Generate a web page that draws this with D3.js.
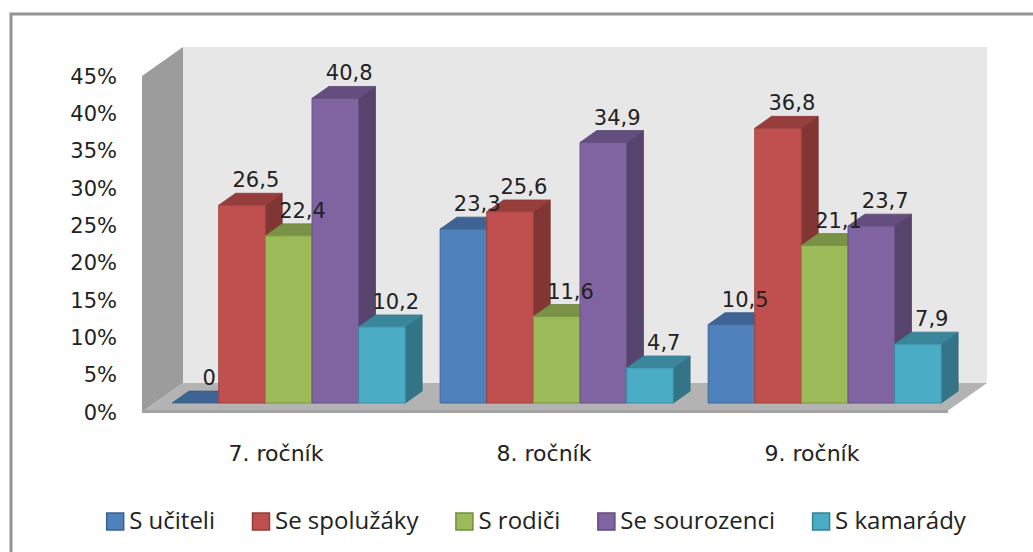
<!DOCTYPE html>
<html>
<head>
<meta charset="utf-8">
<script src="https://cdn.jsdelivr.net/npm/d3@7"></script>
<style>
  body { margin: 0; background: #fff; }
  .tick-label { font-family: "DejaVu Sans", Verdana, sans-serif; font-size: 21px; fill: #222; }
  .cat-label { font-family: "DejaVu Sans", Verdana, sans-serif; font-size: 22px; fill: #222; }
  .val-label { font-family: "DejaVu Sans", Verdana, sans-serif; font-size: 21px; fill: #222; }
  .legend-label { font-family: "Open Sans", "Noto Sans", sans-serif; font-size: 24px; fill: #222; }
</style>
</head>
<body>
<div id="chart"></div>
<script>

  // data (percent)
  var categories = ["7. ročník", "8. ročník", "9. ročník"];
  var seriesNames = ["S učiteli", "Se spolužáky", "S rodiči", "Se sourozenci", "S kamarády"];
  var sUciteli = [0, 23.3, 10.5];
  var seSpoluzaky = [26.5, 25.6, 36.8];
  var sRodici = [22.4, 11.6, 21.1];
  var seSourozenci = [40.8, 34.9, 23.7];
  var sKamarady = [10.2, 4.7, 7.9];
  var yTicks = [0, 5, 10, 15, 20, 25, 30, 35, 40, 45];
  var colors = ["#4F81BD", "#C0504D", "#9BBB59", "#8064A2", "#4BACC6"];

  var seriesValues = [sUciteli, seSpoluzaky, sRodici, seSourozenci, sKamarady];

  var width = 1033, height = 552;

  // front plane scales, depth goes back by (depthX, depthY)
  var yScale = d3.scaleLinear().domain([0, 45]).range([412, 76]);
  var xScale = d3.scaleBand()
    .domain(categories)
    .range([142, 946])
    .paddingInner(0.13)
    .paddingOuter(0.065);
  var xSeries = d3.scaleBand()
    .domain(seriesNames)
    .range([0, xScale.bandwidth()]);

  var depthX = 41, depthY = -29;
  var barZ0 = 0.31, barZ1 = 0.72;

  function proj(x, v, z) {
    return [x + z * depthX, yScale(v) + z * depthY];
  }
  function poly(pts) {
    return pts.map(function (p) { return p.join(","); }).join(" ");
  }

  var svg = d3.select("#chart").append("svg")
    .attr("width", width)
    .attr("height", height);

  // outer chart frame (runs off the right and bottom edges)
  svg.append("rect")
    .attr("x", 11).attr("y", 14)
    .attr("width", 1100).attr("height", 600)
    .attr("fill", "none")
    .attr("stroke", "#939393")
    .attr("stroke-width", 3);

  var x0 = xScale.range()[0], x1 = xScale.range()[1];
  var vMax = yScale.domain()[1];

  // back wall
  svg.append("polygon")
    .attr("points", poly([proj(x0, vMax, 1), proj(x1, vMax, 1), proj(x1, 0, 1), proj(x0, 0, 1)]))
    .attr("fill", "#e7e7e7");

  // side wall
  svg.append("polygon")
    .attr("points", poly([proj(x0, vMax, 0), proj(x0, vMax, 1), proj(x0, 0, 1), proj(x0, 0, 0)]))
    .attr("fill", "#9c9c9c");

  // floor
  svg.append("polygon")
    .attr("points", poly([proj(x0, 0, 0), proj(x0, 0, 1), proj(x1, 0, 1), proj(x1, 0, 0)]))
    .attr("fill", "#b3b3b3");
  svg.append("rect")
    .attr("x", x0).attr("y", yScale(0) - 2)
    .attr("width", x1 - x0 + 2).attr("height", 3)
    .attr("fill", "#a3a3a3");

  // y tick labels
  svg.selectAll(".tick-label")
    .data(yTicks)
    .enter().append("text")
    .attr("class", "tick-label")
    .attr("x", 117)
    .attr("y", function (d) { return yScale(d); })
    .attr("dy", "0.36em")
    .attr("text-anchor", "end")
    .text(function (d) { return d + "%"; });

  // category labels
  svg.selectAll(".cat-label")
    .data(categories)
    .enter().append("text")
    .attr("class", "cat-label")
    .attr("x", function (d) { return xScale(d) + xScale.bandwidth() / 2; })
    .attr("y", 453)
    .attr("dy", "0.36em")
    .attr("text-anchor", "middle")
    .text(function (d) { return d; });

  // bars, drawn left to right so later bars cover earlier side faces
  var bars = [];
  categories.forEach(function (c, ci) {
    seriesNames.forEach(function (s, si) {
      bars.push({ cat: c, series: s, color: colors[si], value: seriesValues[si][ci] });
    });
  });

  var barG = svg.append("g");
  bars.forEach(function (b) {
    var bx0 = xScale(b.cat) + xSeries(b.series);
    var bx1 = bx0 + xSeries.bandwidth();
    var col = d3.color(b.color);
    var g = barG.append("g");
    // side face
    g.append("polygon")
      .attr("points", poly([proj(bx1, b.value, barZ0), proj(bx1, b.value, barZ1), proj(bx1, 0, barZ1), proj(bx1, 0, barZ0)]))
      .attr("fill", col.darker(1.1))
      .attr("stroke", col.darker(1.3))
      .attr("stroke-width", 0.8);
    // top face
    g.append("polygon")
      .attr("points", poly([proj(bx0, b.value, barZ0), proj(bx0, b.value, barZ1), proj(bx1, b.value, barZ1), proj(bx1, b.value, barZ0)]))
      .attr("fill", col.darker(0.7))
      .attr("stroke", col.darker(0.9))
      .attr("stroke-width", 0.8);
    // front face
    if (b.value > 0) {
      g.append("polygon")
        .attr("points", poly([proj(bx0, b.value, barZ0), proj(bx1, b.value, barZ0), proj(bx1, 0, barZ0), proj(bx0, 0, barZ0)]))
        .attr("fill", col)
        .attr("stroke", col.darker(0.6))
        .attr("stroke-width", 1);
    }
  });

  // value labels above the caps
  svg.selectAll(".val-label")
    .data(bars)
    .enter().append("text")
    .attr("class", "val-label")
    .attr("x", function (d) {
      var bx = xScale(d.cat) + xSeries(d.series) + xSeries.bandwidth() / 2;
      return proj(bx, d.value, barZ1)[0] - 3;
    })
    .attr("y", function (d) {
      var bx = xScale(d.cat) + xSeries(d.series);
      return proj(bx, d.value, barZ1)[1] - 6;
    })
    .attr("text-anchor", "middle")
    .text(function (d) { return String(d.value).replace(".", ","); });

  // legend
  var legend = svg.append("g");
  var lx = 0;
  seriesNames.forEach(function (s, i) {
    var item = legend.append("g").attr("transform", "translate(" + lx + ",0)");
    item.append("rect")
      .attr("x", 0.5).attr("y", -8)
      .attr("width", 17).attr("height", 17)
      .attr("fill", colors[i])
      .attr("stroke", d3.color(colors[i]).darker(0.8))
      .attr("stroke-width", 1.5);
    var t = item.append("text")
      .attr("class", "legend-label")
      .attr("x", 23)
      .attr("y", 0)
      .attr("dy", "0.35em")
      .text(s);
    lx += 23 + t.node().getComputedTextLength() + 37;
  });
  var legendW = lx - 37;
  legend.attr("transform", "translate(" + (536 - legendW / 2) + ",521)");

</script>
</body>
</html>
